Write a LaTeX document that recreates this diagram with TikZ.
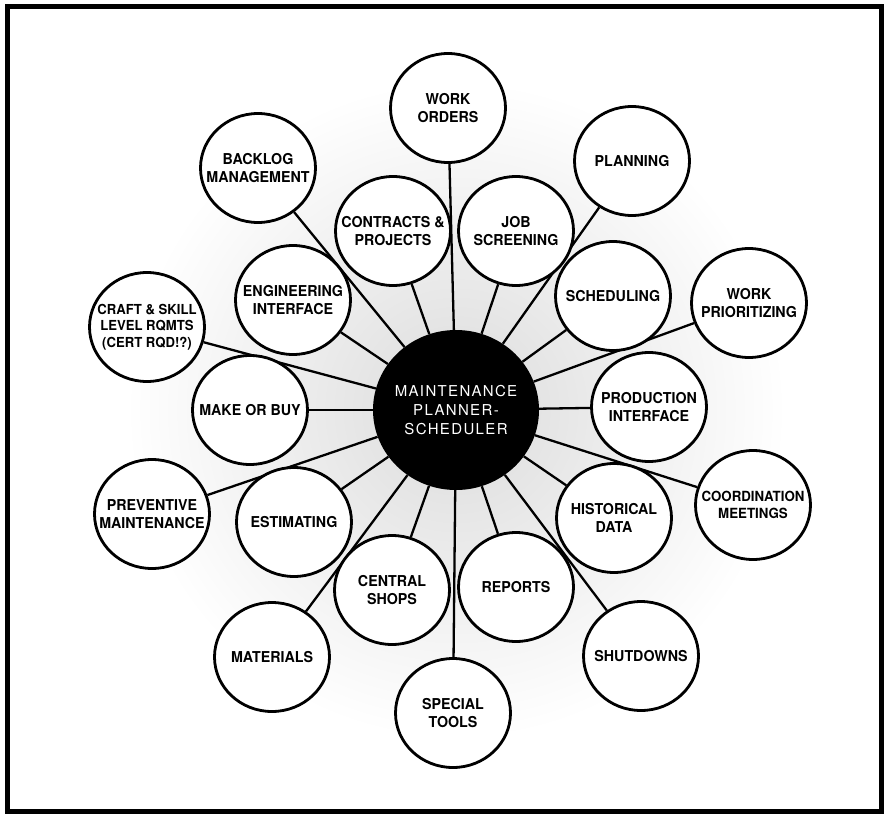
\documentclass[tikz,border=0pt]{standalone}
\usepackage{fontspec}
\setmainfont{TeX Gyre Heros}[FakeStretch=0.95]
\newfontfamily\hubfont{TeX Gyre Heros}[LetterSpace=9]
\usetikzlibrary{shapes.geometric,backgrounds}

\tikzset{
  topic/.style={ellipse, draw, line width=2.8pt, fill=white,
    minimum width=115pt, minimum height=109pt, inner xsep=-20pt, inner ysep=0pt,
    align=center, font=\bfseries\fontsize{15}{17.5}\selectfont},
  smalltopic/.style={topic, font=\bfseries\fontsize{13.8}{16.5}\selectfont},
  midtopic/.style={topic, font=\bfseries\fontsize{14}{17}\selectfont},
  hub/.style={ellipse, fill=black, minimum width=166pt, minimum height=160pt,
    inner xsep=-30pt, inner ysep=0pt, align=center, text=white,
    font=\hubfont\fontsize{15}{19}\selectfont},
  spoke/.style={line width=2.3pt},
  outerframe/.style={line width=5pt}
}

\begin{document}
\begin{tikzpicture}[x=1pt,y=-1pt]
  \useasboundingbox (0,0) rectangle (885,816);

  % central hub
  \node[hub] (hub) at (456,410) {MAINTENANCE\\PLANNER-\\SCHEDULER};

  % surrounding topics
  \node[topic] (wo)  at (448,108) {WORK\\ORDERS};
  \node[topic] (pl)  at (632,161) {PLANNING};
  \node[topic] (bl)  at (258,168) {BACKLOG\\MANAGEMENT};
  \node[topic] (cp)  at (393,231) {CONTRACTS \&\\PROJECTS};
  \node[topic] (js)  at (516,231) {JOB\\SCREENING};
  \node[smalltopic] (cs) at (147,327) {CRAFT \& SKILL\\LEVEL RQMTS\\(CERT RQD!?)};
  \node[topic] (ei)  at (293,300) {ENGINEERING\\INTERFACE};
  \node[topic] (sc)  at (613,296) {SCHEDULING};
  \node[topic] (wp)  at (749,303) {WORK\\PRIORITIZING};
  \node[topic] (mb)  at (250,410) {MAKE OR BUY};
  \node[topic] (pi)  at (649,407) {PRODUCTION\\INTERFACE};
  \node[topic] (pm)  at (152,514) {PREVENTIVE\\MAINTENANCE};
  \node[topic] (es)  at (294,522) {ESTIMATING};
  \node[topic] (hd)  at (614,518) {HISTORICAL\\DATA};
  \node[midtopic] (cm) at (753,505) {COORDINATION\\MEETINGS};
  \node[topic] (csh) at (392,590) {CENTRAL\\SHOPS};
  \node[topic] (rp)  at (516,587) {REPORTS};
  \node[topic] (mt)  at (272,657) {MATERIALS};
  \node[topic] (sd)  at (641,656) {SHUTDOWNS};
  \node[topic] (st)  at (453,713) {SPECIAL\\TOOLS};

  \begin{pgfonlayer}{background}
    \fill[white] (0,0) rectangle (885,816);
    % soft tone around the hub
    \shade[inner color=gray!28, outer color=white] (hub.center) circle (330pt);
    % spokes from the hub to every topic
    \foreach \n in {wo,pl,bl,cp,js,cs,ei,sc,wp,mb,pi,pm,es,hd,cm,csh,rp,mt,sd,st}
      \draw[spoke] (hub) -- (\n);
  \end{pgfonlayer}

  % border
  \draw[outerframe] (7,7) rectangle (881,811);
\end{tikzpicture}
\end{document}
